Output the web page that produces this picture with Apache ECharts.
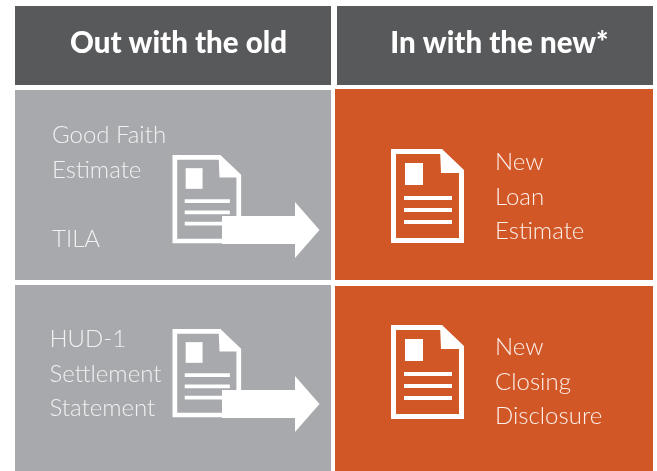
<!DOCTYPE html>
<html>
<head>
<meta charset="utf-8">
<style>html,body{margin:0;padding:0;background:#fff}#c{width:657px;height:471px}</style>
<script src="https://cdn.jsdelivr.net/npm/echarts@6/dist/echarts.min.js"></script>
</head>
<body>
<div id="c"></div>
<script>
// Content of the table
const columns = ["Out with the old", "In with the new*"];
const oldTopLines = ["Good Faith", "Estimate", "TILA"];
const oldBottomLines = ["HUD-1", "Settlement", "Statement"];
const newTopLines = ["New", "Loan", "Estimate"];
const newBottomLines = ["New", "Closing", "Disclosure"];

const DARK = "#58595B", GRAY = "#A7A9AC", ORANGE = "#D25727", WHITE = "#FFFFFF";
const BODY_FONT = '300 24px Lato, "Open Sans", sans-serif';
const HEAD_FONT = '900 29.5px Lato, "Open Sans", sans-serif';

function rect(p, x0, y0, x1, y1, fill) {
  const a = p([x0, y0]), b = p([x1, y1]);
  return { type: "rect", shape: { x: a[0], y: a[1], width: b[0] - a[0], height: b[1] - a[1] }, style: { fill: fill } };
}
function poly(p, pts, style) {
  return { type: "polygon", shape: { points: pts.map(p) }, style: style };
}
function doc(p, ox, oy, s, bg) {
  const q = (x, y) => [ox + x * s, oy + y * s];
  const out = [];
  const w = 5 * s, h = w / 2;
  out.push(poly(p, [q(h / s, h / s), q(50, h / s), q(73 - h / s, 22), q(73 - h / s, 94 - h / s), q(h / s, 94 - h / s)],
    { fill: bg, stroke: WHITE, lineWidth: w, lineJoin: "miter" }));
  out.push(poly(p, [q(49, 0), q(73, 24), q(50, 24)], { fill: WHITE }));
  const sa = q(14, 14), sb = q(32, 36);
  out.push(rect(p, sa[0], sa[1], sb[0], sb[1], WHITE));
  [47, 59, 71].forEach(function (y) {
    const a = q(13, y), b = q(61, y + 4);
    out.push(rect(p, a[0], a[1], b[0], b[1], WHITE));
  });
  return out;
}
function arrow(p, dy) {
  return poly(p, [[222, 216 + dy], [295, 216 + dy], [295, 202 + dy], [319.5, 230 + dy], [295, 258 + dy], [295, 244 + dy], [222, 244 + dy]], { fill: WHITE });
}
function label(p, text, x, base, font, color, align) {
  const a = p([x, base - 8.5]);
  return { type: "text", style: { text: text, x: a[0], y: a[1], font: font, fill: color, align: align || "left", verticalAlign: "middle" } };
}

const cells = [
  { kind: "head", col: 0, lines: [columns[0]] },
  { kind: "head", col: 1, lines: [columns[1]] },
  { kind: "old", row: 0, lines: oldTopLines },
  { kind: "old", row: 1, lines: oldBottomLines },
  { kind: "new", row: 0, lines: newTopLines },
  { kind: "new", row: 1, lines: newBottomLines }
];

function renderItem(params, api) {
  const p = api.coord;
  const c = cells[params.dataIndex];
  let kids = [];
  if (c.kind === "head") {
    kids.push(c.col === 0 ? rect(p, 15, 6, 331, 85, DARK) : rect(p, 337, 6, 653, 85, DARK));
    kids.push(label(p, c.lines[0], c.col === 0 ? 178.5 : 499.5, 52, HEAD_FONT, WHITE, "center"));
  } else if (c.kind === "old") {
    const dy = c.row === 0 ? 0 : 174;
    kids.push(c.row === 0 ? rect(p, 15, 90, 331, 280, GRAY) : rect(p, 15, 285, 331, 471, GRAY));
    const xs = c.row === 0 ? 52 : 49.5;
    const bases = c.row === 0 ? [144, 179, 248] : [348, 383, 417];
    c.lines.forEach((t, i) => kids.push(label(p, t, xs, bases[i], BODY_FONT, "#F1F1F2")));
    kids = kids.concat(doc(p, 172.5, 155 + dy, 0.94, GRAY));
    kids.push(arrow(p, dy));
  } else {
    const dy = c.row === 0 ? 0 : 176;
    kids.push(c.row === 0 ? rect(p, 335, 89, 653, 280, ORANGE) : rect(p, 335, 286, 653, 471, ORANGE));
    const bases = c.row === 0 ? [171, 205.5, 240] : [356, 390.5, 425];
    c.lines.forEach((t, i) => kids.push(label(p, t, 495, bases[i], BODY_FONT, "#FBEFE9")));
    kids = kids.concat(doc(p, 391, 149 + dy, 1, ORANGE));
  }
  return { type: "group", children: kids };
}

const chart = echarts.init(document.getElementById("c"), null, { renderer: "canvas" });
chart.setOption({
  animation: false,
  backgroundColor: "#FFFFFF",
  grid: { left: 0, right: 0, top: 0, bottom: 0 },
  xAxis: { type: "value", min: 0, max: 657, show: false },
  yAxis: { type: "value", min: 0, max: 471, inverse: true, show: false },
  tooltip: { show: false },
  series: [{
    type: "custom",
    silent: true,
    clip: false,
    renderItem: renderItem,
    data: cells.map((c, i) => [i, i])
  }]
});
</script>
</body>
</html>
